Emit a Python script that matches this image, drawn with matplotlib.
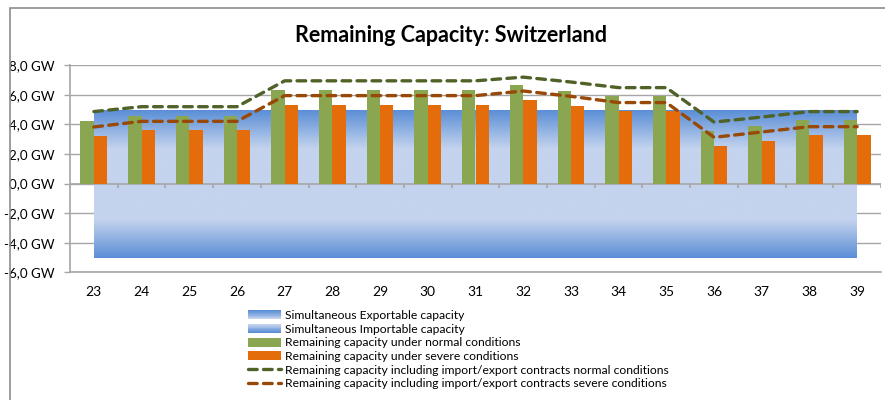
import matplotlib.pyplot as plt
import numpy as np
from matplotlib.patches import Rectangle, Patch
from matplotlib.lines import Line2D
from matplotlib.colors import to_rgb
from matplotlib.legend_handler import HandlerBase

plt.rcParams['font.family'] = ['Lato', 'DejaVu Sans']

# Données (GW) par semaine
weeks = ['23', '24', '25', '26', '27', '28', '29', '30', '31', '32', '33', '34', '35', '36', '37', '38', '39']
exportable = [5.0, 5.0, 5.0, 5.0, 5.0, 5.0, 5.0, 5.0, 5.0, 5.0, 5.0, 5.0, 5.0, 5.0, 5.0, 5.0, 5.0]
importable = [-5.0, -5.0, -5.0, -5.0, -5.0, -5.0, -5.0, -5.0, -5.0, -5.0, -5.0, -5.0, -5.0, -5.0, -5.0, -5.0, -5.0]
normal = [4.21, 4.6, 4.6, 4.6, 6.31, 6.31, 6.31, 6.31, 6.31, 6.65, 6.24, 5.9, 5.9, 3.56, 3.87, 4.3, 4.3]
severe = [3.2, 3.62, 3.62, 3.62, 5.29, 5.29, 5.29, 5.29, 5.29, 5.63, 5.23, 4.89, 4.9, 2.54, 2.88, 3.27, 3.27]
normal_contracts = [4.87, 5.2, 5.2, 5.2, 6.95, 6.95, 6.95, 6.95, 6.95, 7.2, 6.87, 6.49, 6.49, 4.16, 4.5, 4.87, 4.87]
severe_contracts = [3.83, 4.21, 4.21, 4.21, 5.95, 5.95, 5.95, 5.95, 5.95, 6.26, 5.9, 5.48, 5.48, 3.13, 3.49, 3.85, 3.85]

labels = ['Simultaneous Exportable capacity',
          'Simultaneous Importable capacity',
          'Remaining capacity under normal conditions',
          'Remaining capacity under severe conditions',
          'Remaining capacity including import/export contracts normal conditions',
          'Remaining capacity including import/export contracts severe conditions']

GREEN = '#8BA650'
ORANGE = '#E46C0A'
DKGREEN = '#4F6228'
DKORANGE = '#984807'
GRID = '#A6A6A6'
LIGHT = np.array(to_rgb('#C4D3EE'))
DARK = np.array(to_rgb('#5A8ED6'))

fig = plt.figure(figsize=(8.85, 4.0), dpi=100)
ax = fig.add_axes([70/885, 1 - 272.3/400, 811/885, 207/400])

x = np.arange(len(weeks))

# zones en dégradé (export au-dessus, import en dessous)
def gradient_area(vals):
    poly = ax.fill_between(x, 0, vals, color='none', lw=0)
    lo, hi = min(0, min(vals)), max(0, max(vals))
    ys = np.linspace(lo, hi, 300)
    t = np.clip((np.abs(ys) - 2.4) / 2.6, 0, 1)
    grad = LIGHT + (DARK - LIGHT) * t[:, None]
    img = ax.imshow(grad[:, None, :], extent=[x[0], x[-1], lo, hi],
                    origin='lower', aspect='auto', zorder=1, interpolation='bilinear')
    img.set_clip_path(poly.get_paths()[0], ax.transData)

gradient_area(exportable)
gradient_area(importable)

w = 0.28
ax.bar(x - w/2, normal, w, color=GREEN, zorder=3)
ax.bar(x + w/2, severe, w, color=ORANGE, zorder=3)

ax.plot(x, normal_contracts, color=DKGREEN, lw=2.4, ls=(0, (2.6, 1.9)),
        dash_capstyle='round', zorder=4)
ax.plot(x, severe_contracts, color=DKORANGE, lw=2.4, ls=(0, (2.6, 1.9)),
        dash_capstyle='round', zorder=4)

# axe horizontal à zéro avec graduations entre catégories
ax.axhline(0, color=GRID, lw=1.2, zorder=2)
ax.vlines(np.arange(len(weeks) + 1) - 0.5, -0.27, 0, color=GRID, lw=1.2, zorder=2)

ax.set_xlim(-0.5, len(weeks) - 0.5)
ax.set_ylim(-6, 8)
yt = np.arange(-6, 9, 2)
ax.set_yticks(yt, [f"{v:.1f}".replace('.', ',') + " GW" for v in yt])
ax.set_xticks(x, weeks)
ax.tick_params(axis='x', length=0, pad=10, labelsize=10)
ax.tick_params(axis='y', length=4, width=1, color=GRID, pad=7, labelsize=9.6)
ax.yaxis.grid(True, color=GRID, lw=1)
ax.set_axisbelow(True)
for s in ['top', 'right']:
    ax.spines[s].set_visible(False)
for s in ['left', 'bottom']:
    ax.spines[s].set_color(GRID)
    ax.spines[s].set_linewidth(1.2)

fig.text(451/885, 1 - 35/400, 'Remaining Capacity: Switzerland', ha='center', va='center',
         fontsize=15.5, fontweight='bold')

# cadre du graphique
fig.patches.append(Rectangle((10/885, -0.5), 1.5, 1 - 8/400 + 0.5, transform=fig.transFigure,
                             facecolor='none', edgecolor='#8C8C8C', lw=1.2))


class GradientHandler(HandlerBase):
    def __init__(self, top, bottom):
        super().__init__()
        self.top = top
        self.bottom = bottom

    def create_artists(self, legend, orig_handle, xd, yd, width, height, fontsize, trans):
        n = 10
        arts = []
        for i in range(n):
            f = i / (n - 1)
            c = self.top + (self.bottom - self.top) * f
            r = Rectangle((-xd, -yd + height * (1 - (i + 1) / n)), width, height / n * 1.05,
                          facecolor=c, edgecolor='none', transform=trans)
            arts.append(r)
        return arts


h_exp = Patch()
h_imp = Patch()
handles = [h_exp, h_imp,
           Patch(facecolor=GREEN), Patch(facecolor=ORANGE),
           Line2D([], [], color=DKGREEN, lw=2.4, ls=(0, (2.6, 1.9)), dash_capstyle='round'),
           Line2D([], [], color=DKORANGE, lw=2.4, ls=(0, (2.6, 1.9)), dash_capstyle='round')]
fig.legend(handles, labels, loc='upper left', bbox_to_anchor=(242/885, 1 - 304/400),
           frameon=False, fontsize=8.7, handlelength=2.75, handleheight=0.75,
           handletextpad=0.3, labelspacing=0.22, borderpad=0,
           handler_map={h_exp: GradientHandler(DARK, LIGHT), h_imp: GradientHandler(LIGHT, DARK)})

fig.savefig('out.png', dpi=100)
